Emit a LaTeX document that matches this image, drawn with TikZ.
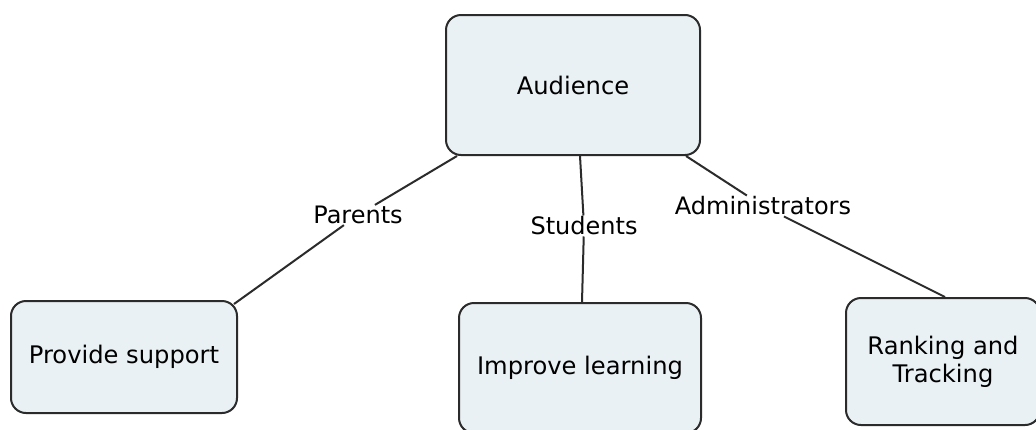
\documentclass[tikz,border=0pt]{standalone}
\usepackage{fontspec}
\setmainfont{DejaVu Sans}
\begin{document}
\begin{tikzpicture}[x=1pt,y=-1pt,
  conceptbox/.style={draw=boxline, line width=2pt, fill=boxfill, rounded corners=15pt,
    inner sep=0pt, align=center, font=\fontsize{24.2}{28}\selectfont},
  linklabel/.style={inner sep=1pt, font=\fontsize{24}{28}\selectfont},
  link/.style={draw=boxline, line width=2pt}]
\definecolor{boxfill}{HTML}{EAF1F4}
\definecolor{boxline}{HTML}{2B2B2B}
\clip (0,0) rectangle (1036,429);
\fill[white] (0,0) rectangle (1036,429);

% concept boxes
\node[conceptbox, minimum width=254pt, minimum height=140pt] (aud) at (573,85) {Audience};
\node[conceptbox, minimum width=226pt, minimum height=112pt] (prov) at (124,357) {Provide support};
\node[conceptbox, minimum width=242pt, minimum height=130pt] (impr) at (580,368) {Improve learning};
\node[conceptbox, minimum width=194pt, minimum height=127pt] (rank) at (943,361.5) {Ranking and\\Tracking};

% link labels
\node[linklabel] (par) at (358,215) {Parents};
\node[linklabel] (stu) at (584,226) {Students};
\node[linklabel] (adm) at (763,206) {Administrators};

% connectors through their labels
\draw[link] ([xshift=12pt]aud.south west) -- (par) -- ([shift={(-4,4)}]prov.north east);
\draw[link] ([xshift=7pt]aud.south) -- (stu) -- ([xshift=2pt]impr.north);
\draw[link] ([xshift=-15pt]aud.south east) -- (adm) -- ([xshift=100pt]rank.north west);
\end{tikzpicture}
\end{document}
